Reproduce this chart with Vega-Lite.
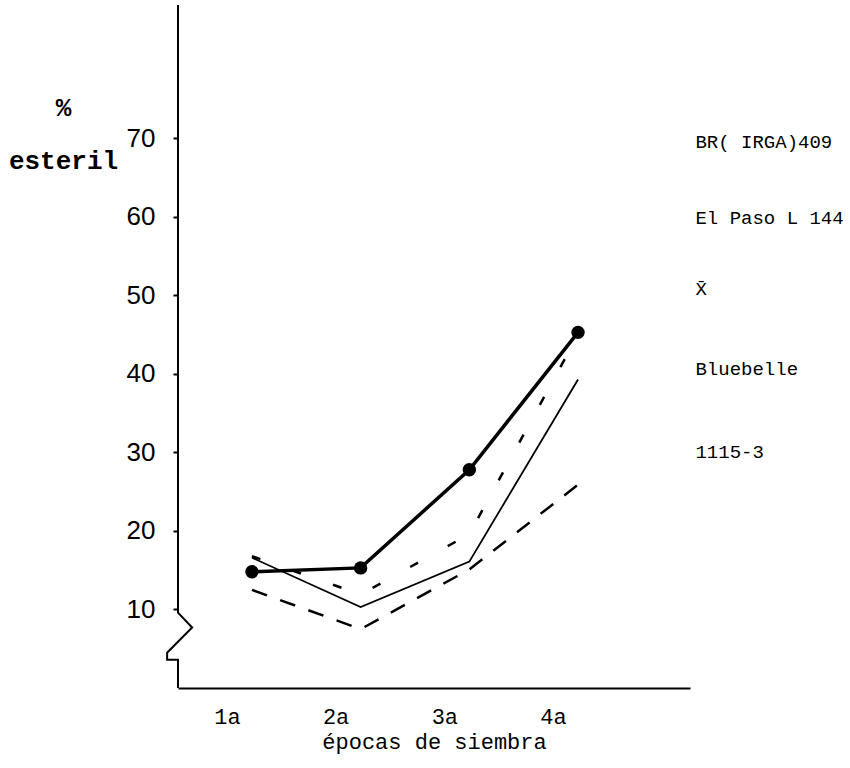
{
  "$schema": "https://vega.github.io/schema/vega-lite/v6.json",
  "width": 512,
  "height": 683,
  "autosize": {"type": "none"},
  "padding": {"left": 178, "top": 5, "right": 160, "bottom": 80},
  "background": "white",
  "config": {"view": {"stroke": null}, "axis": {"grid": false}},
  "datasets": {
    "series": [
      {"variedad": "BR(IRGA)409", "epoca": 1, "pct": 14.8},
      {"variedad": "BR(IRGA)409", "epoca": 2, "pct": 15.3},
      {"variedad": "BR(IRGA)409", "epoca": 3, "pct": 27.8},
      {"variedad": "BR(IRGA)409", "epoca": 4, "pct": 45.3},
      {"variedad": "Bluebelle", "epoca": 1, "pct": 16.6},
      {"variedad": "Bluebelle", "epoca": 2, "pct": 10.3},
      {"variedad": "Bluebelle", "epoca": 3, "pct": 16.1},
      {"variedad": "Bluebelle", "epoca": 4, "pct": 39.3},
      {"variedad": "1115-3", "epoca": 1, "pct": 12.5},
      {"variedad": "1115-3", "epoca": 2, "pct": 7.5},
      {"variedad": "1115-3", "epoca": 3, "pct": 15.1},
      {"variedad": "1115-3", "epoca": 4, "pct": 25.9},
      {"variedad": "El Paso L 144", "epoca": 1, "pct": 16.8},
      {"variedad": "El Paso L 144", "epoca": 2, "pct": 11.9},
      {"variedad": "El Paso L 144", "epoca": 3, "pct": 19.6},
      {"variedad": "El Paso L 144", "epoca": 4, "pct": 45}
    ],
    "labels": [
      {"epoca": 5.08, "pct": 69.6, "texto": "BR( IRGA)409"},
      {"epoca": 5.08, "pct": 59.9, "texto": "El Paso L 144"},
      {"epoca": 5.08, "pct": 50.8, "texto": "X̄"},
      {"epoca": 5.08, "pct": 40.6, "texto": "Bluebelle"},
      {"epoca": 5.08, "pct": 30.1, "texto": "1115-3"}
    ],
    "eje": [
      {"i": 1, "epoca": 0.32, "pct": 87},
      {"i": 2, "epoca": 0.32, "pct": 9.6},
      {"i": 3, "epoca": 0.45, "pct": 7.7},
      {"i": 4, "epoca": 0.22, "pct": 4.5},
      {"i": 5, "epoca": 0.22, "pct": 3.6},
      {"i": 6, "epoca": 0.32, "pct": 3.6},
      {"i": 7, "epoca": 0.32, "pct": 0}
    ]
  },
  "encoding": {
    "x": {
      "field": "epoca",
      "type": "quantitative",
      "scale": {"domain": [0.32, 5.03], "nice": false, "zero": false},
      "axis": {
        "values": [1, 2, 3, 4],
        "labelExpr": "datum.value + 'a'",
        "ticks": false,
        "labelPadding": 18,
        "labelOffset": -25,
        "labelFont": "Liberation Mono",
        "labelFontSize": 22,
        "labelColor": "black",
        "domainColor": "black",
        "domainWidth": 2,
        "title": "épocas de siembra",
        "titleFont": "Liberation Mono",
        "titleFontSize": 22,
        "titleFontWeight": "normal",
        "titleColor": "black",
        "titlePadding": 4
      }
    },
    "y": {
      "field": "pct",
      "type": "quantitative",
      "scale": {"domain": [0, 87], "nice": false, "zero": false},
      "axis": {
        "values": [10, 20, 30, 40, 50, 60, 70],
        "domain": false,
        "tickSize": 5,
        "tickColor": "black",
        "tickWidth": 2,
        "labelPadding": 18,
        "labelFont": "Liberation Sans",
        "labelFontSize": 26,
        "labelColor": "black",
        "title": ["%", "esteril"],
        "titleAngle": 0,
        "titleX": -115,
        "titleY": 110,
        "titleAlign": "center",
        "titleBaseline": "alphabetic",
        "titleFont": "Liberation Mono",
        "titleFontSize": 26,
        "titleFontWeight": "bold",
        "titleLineHeight": 53,
        "titleColor": "black"
      }
    }
  },
  "layer": [
    {
      "data": {"name": "eje"},
      "mark": {"type": "line", "color": "black", "strokeWidth": 2, "clip": false},
      "encoding": {"order": {"field": "i", "type": "quantitative"}}
    },
    {
      "data": {"name": "series"},
      "transform": [{"filter": "datum.variedad === 'BR(IRGA)409'"}],
      "mark": {"type": "line", "color": "black", "strokeWidth": 3.5},
      "encoding": {}
    },
    {
      "data": {"name": "series"},
      "transform": [{"filter": "datum.variedad === 'BR(IRGA)409'"}],
      "mark": {"type": "point", "filled": true, "color": "black", "opacity": 1, "size": 180},
      "encoding": {}
    },
    {
      "data": {"name": "series"},
      "transform": [{"filter": "datum.variedad === 'Bluebelle'"}],
      "mark": {"type": "line", "color": "black", "strokeWidth": 1.8},
      "encoding": {}
    },
    {
      "data": {"name": "series"},
      "transform": [{"filter": "datum.variedad === '1115-3'"}],
      "mark": {"type": "line", "color": "black", "strokeWidth": 2.5, "strokeDash": [16, 14]},
      "encoding": {}
    },
    {
      "data": {"name": "series"},
      "transform": [{"filter": "datum.variedad === 'El Paso L 144'"}],
      "mark": {"type": "line", "color": "black", "strokeWidth": 2.5, "strokeDash": [9, 34]},
      "encoding": {}
    },
    {
      "data": {"name": "labels"},
      "mark": {"type": "text", "align": "left", "baseline": "middle", "font": "Liberation Mono", "fontSize": 19, "color": "black", "clip": false},
      "encoding": {"text": {"field": "texto"}}
    }
  ]
}
